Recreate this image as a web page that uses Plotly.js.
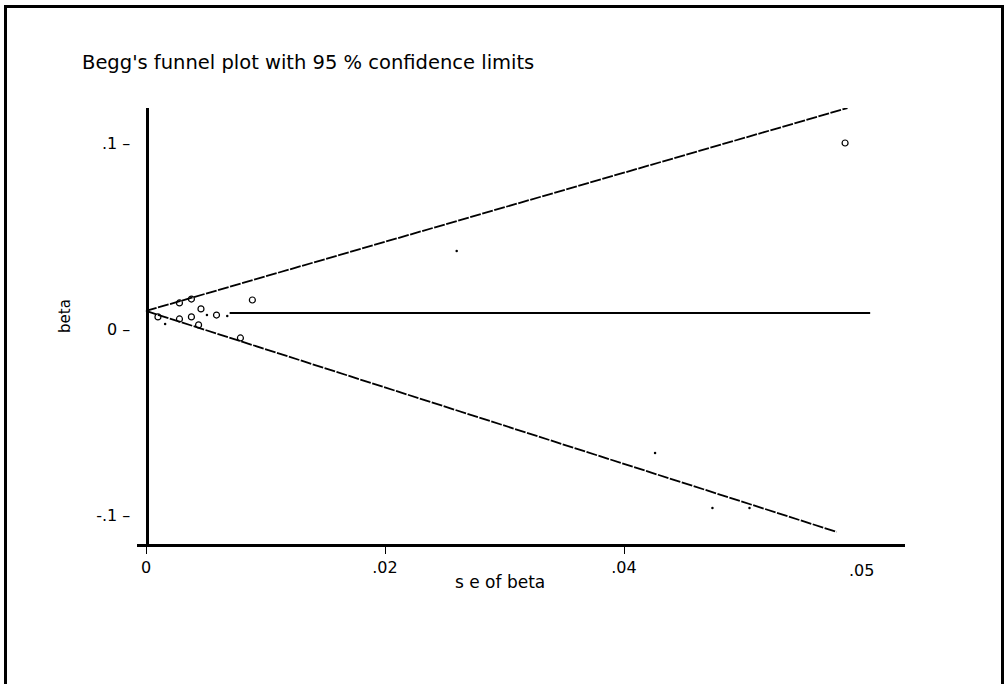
<!DOCTYPE html>
<html>
<head>
<meta charset="utf-8">
<script src="https://cdn.plot.ly/plotly-3.0.1.min.js"></script>
<style>
  html, body { margin: 0; padding: 0; background: #fff; overflow: hidden; }
  #wrap { position: relative; width: 1008px; height: 684px; overflow: hidden; }
  #chart { width: 1008px; height: 684px; }
  #frame { position: absolute; left: 4px; top: 5px; width: 1000px; height: 700px;
           border: 3px solid #000; pointer-events: none; box-sizing: border-box; }
</style>
</head>
<body>
<div id="wrap">
  <div id="chart"></div>
  <div id="frame"></div>
</div>
<script>
// ---- data ----
const circleSE   = [0.0010, 0.0028, 0.0038, 0.0028, 0.0038, 0.0046, 0.0044, 0.0059, 0.0089, 0.0079, 0.0585];
const circleBeta = [0.0065, 0.0140, 0.0161, 0.0054, 0.0065, 0.0108, 0.0022, 0.0075, 0.0156, -0.0048, 0.1000];
const dotSE      = [0.0016, 0.0051, 0.0068, 0.0260, 0.0426, 0.0474, 0.0505];
const dotBeta    = [0.0027, 0.0075, 0.0070, 0.0419, -0.0667, -0.0962, -0.0962];

const upperSE    = [0.0000, 0.0587];
const upperBeta  = [0.0097, 0.1188];
const lowerSE    = [0.0000, 0.0578];
const lowerBeta  = [0.0097, -0.1091];
const pooledSE   = [0.0070, 0.0606];
const pooledBeta = [0.0086, 0.0086];

const xTickVals  = [0, 0.02, 0.04];
const xTickText  = ['0', '.02', '.04'];
const xExtraVal  = 0.0599;
const xExtraText = '.05';
const yTickVals  = [0.1, 0, -0.1];
const yTickText  = ['.1 –', '0 –', '-.1 –'];

const titleText  = "Begg's funnel plot with 95 % confidence limits";
const xTitle     = 's e of beta';
const yTitle     = 'beta';

// ---- chart ----
const FONT = 'DejaVu Sans, Arial, sans-serif';
const traces = [
  { x: upperSE, y: upperBeta, mode: 'lines', line: { color: '#000', width: 1.8, dash: '11px,1.5px' }, hoverinfo: 'skip' },
  { x: lowerSE, y: lowerBeta, mode: 'lines', line: { color: '#000', width: 1.8, dash: '11px,1.5px' }, hoverinfo: 'skip' },
  { x: pooledSE, y: pooledBeta, mode: 'lines', line: { color: '#000', width: 2 }, hoverinfo: 'skip' },
  { x: circleSE, y: circleBeta, mode: 'markers',
    marker: { symbol: 'circle-open', size: 6, color: '#000', line: { width: 1.2, color: '#000' } } },
  { x: dotSE, y: dotBeta, mode: 'markers',
    marker: { symbol: 'circle', size: 2.5, color: '#000' } }
];

const layout = {
  width: 1008, height: 684,
  margin: { l: 137, r: 103, t: 108, b: 140, pad: 0 },
  paper_bgcolor: '#fff', plot_bgcolor: '#fff',
  showlegend: false,
  font: { family: FONT, color: '#000', size: 16 },
  title: { text: titleText, x: 82 / 1008, xanchor: 'left', xref: 'container',
           y: 1 - 62 / 684, yanchor: 'middle', yref: 'container',
           font: { family: FONT, size: 19.5, color: '#000' } },
  xaxis: {
    range: [-9 / 11950, 759 / 11950],
    showgrid: false, zeroline: false,
    showline: true, linecolor: '#000', linewidth: 3,
    ticks: 'outside', ticklen: 7, tickwidth: 1, tickcolor: '#000',
    tickvals: xTickVals, ticktext: xTickText,
    tickfont: { family: FONT, size: 16, color: '#000' }
  },
  yaxis: {
    range: [-(544 - 329) / 1860, (329 - 108) / 1860],
    anchor: 'free', position: 9.5 / 768,
    showgrid: false, zeroline: false,
    showline: true, linecolor: '#000', linewidth: 3,
    ticks: '', tickvals: yTickVals, ticktext: yTickText,
    ticklabelstandoff: 12,
    tickfont: { family: FONT, size: 16, color: '#000' }
  },
  annotations: [
    { text: xExtraText, x: xExtraVal, xref: 'x', y: (544 - 570) / 436, yref: 'paper',
      xanchor: 'center', yanchor: 'middle', showarrow: false,
      font: { family: FONT, size: 16, color: '#000' } },
    { text: xTitle, x: (500 - 137) / 768, xref: 'paper', y: (544 - 582) / 436, yref: 'paper',
      xanchor: 'center', yanchor: 'middle', showarrow: false,
      font: { family: FONT, size: 17, color: '#000' } },
    { text: yTitle, x: (65 - 137) / 768, xref: 'paper', y: (544 - 316) / 436, yref: 'paper',
      xanchor: 'center', yanchor: 'middle', showarrow: false, textangle: -90,
      font: { family: FONT, size: 15, color: '#000' } }
  ]
};

Plotly.newPlot('chart', traces, layout, { displayModeBar: false, staticPlot: true });
</script>
</body>
</html>
